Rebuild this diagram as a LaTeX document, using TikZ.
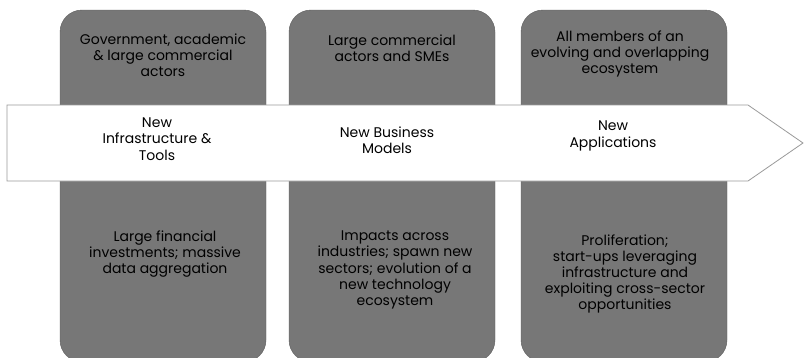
\documentclass[tikz,border=0pt]{standalone}
\usepackage{fontspec}
\setmainfont{Poppins}
\definecolor{stagefill}{HTML}{777777}
\definecolor{stageline}{HTML}{5E5E5E}
\definecolor{flowline}{HTML}{9A9A9A}
\begin{document}
\begin{tikzpicture}[x=1pt,y=-1pt,stage/.style={draw=stageline,fill=stagefill,rounded corners=22pt,minimum width=206pt,minimum height=352pt,inner sep=0pt},txt/.style={align=center,text=black,font=\fontsize{14}{16.2}\selectfont},flow/.style={draw=flowline,fill=white,line width=0.8pt}]
\useasboundingbox (0,0) rectangle (804,357);
\def\ya{50};
\def\yb{138};
\def\yc{262};

% the three columns
\node[stage] (S1) at (163,186) {};
\node[stage] (S2) at (392,186) {};
\node[stage] (S3) at (624,186) {};

% the arrow through them
\draw[flow] (7,105) -- (748,105) -- (803,143) -- (748,181) -- (7,181) -- cycle;

\node[txt] (A1) at (163,\ya+5) {Government, academic\\\& large commercial\\actors};
\node[txt] (A2) at (392,\ya-2) {Large commercial\\actors and SMEs};
\node[txt] (A3) at (620,\ya+4) {All members of an\\evolving and overlapping\\ecosystem};

\node[txt] (N1) at (157,\yb+1) {New\\Infrastructure \&\\Tools};
\node[txt] (N2) at (387,\yb+2) {New Business\\Models};
\node[txt] (N3) at (613,\yb-2) {New\\Applications};

\node[txt] (O1) at (165,\yc-8) {Large financial\\investments; massive\\data aggregation};
\node[txt] (O2) at (395,\yc+8) {Impacts across\\industries; spawn new\\sectors; evolution of a\\new technology\\ecosystem};
\node[txt] (O3) at (625,\yc+12) {Proliferation;\\start-ups leveraging\\infrastructure and\\exploiting cross-sector\\opportunities};
\end{tikzpicture}
\end{document}
